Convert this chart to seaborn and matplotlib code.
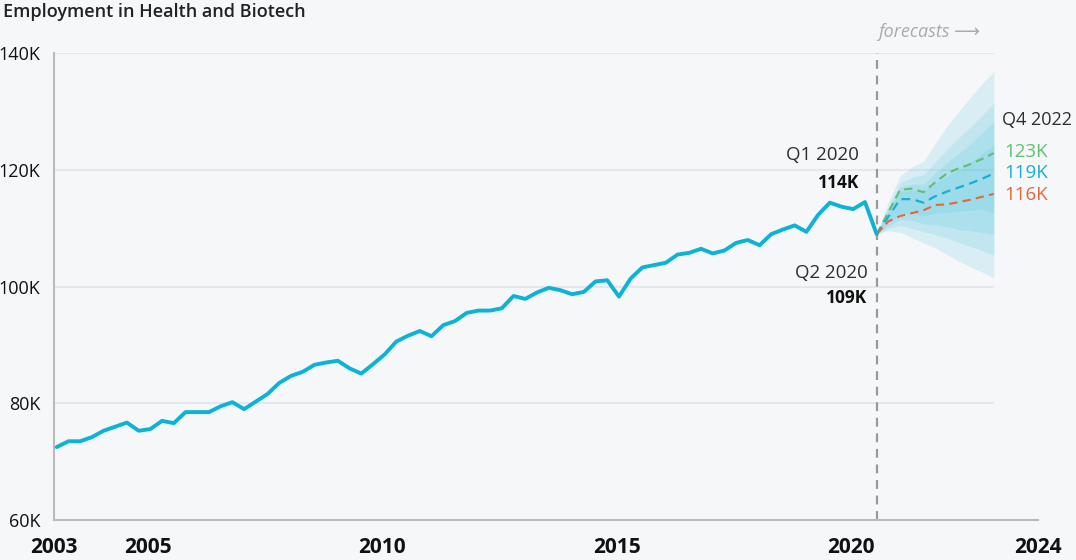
import numpy as np
import pandas as pd
import matplotlib
matplotlib.use("Agg")
import matplotlib.pyplot as plt
import seaborn as sns

# квартальные значения занятости, тыс. (Q1 2003 .. Q2 2020)
employment = [
    72.5, 73.5, 73.5, 74.2, 75.3, 76.0, 76.7, 75.3, 75.6, 77.0,
    76.6, 78.5, 78.5, 78.5, 79.5, 80.2, 79.0, 80.3, 81.6, 83.5,
    84.7, 85.4, 86.6, 87.0, 87.3, 86.0, 85.1, 86.7, 88.4, 90.6,
    91.6, 92.4, 91.5, 93.4, 94.1, 95.5, 95.9, 95.9, 96.3, 98.4,
    97.9, 99.0, 99.8, 99.4, 98.7, 99.1, 100.9, 101.1, 98.3, 101.4,
    103.3, 103.7, 104.1, 105.5, 105.8, 106.5, 105.7, 106.2, 107.5, 108.0,
    107.1, 109.0, 109.8, 110.5, 109.4, 112.3, 114.4, 113.7, 113.3, 114.5,
    109.0,
]

# прогноз Q2 2020 .. Q4 2022
fc_high = [109.0, 112.8, 116.6, 116.8, 116.2, 117.9, 119.4, 120.3, 121.0, 121.9, 122.9]
fc_mid = [109.0, 112.0, 115.0, 115.0, 114.4, 115.5, 116.3, 117.0, 117.7, 118.5, 119.4]
fc_low = [109.0, 111.2, 112.1, 112.6, 113.1, 114.0, 114.1, 114.5, 114.9, 115.4, 115.9]

# интервалы прогноза (от внешнего к внутреннему)
band_upper = [
    [109.0, 114.5, 119.0, 120.5, 121.5, 124.5, 127.5, 130.0, 132.5, 134.8, 136.9],
    [109.0, 113.8, 117.8, 118.8, 119.2, 121.4, 123.5, 125.5, 127.4, 129.4, 131.5],
    [109.0, 113.3, 117.0, 117.6, 117.6, 119.5, 121.3, 122.8, 124.5, 126.4, 128.3],
    [109.0, 112.8, 116.3, 116.6, 116.3, 117.7, 119.0, 120.0, 121.3, 122.8, 124.3],
]
band_lower = [
    [109.0, 109.6, 109.3, 108.4, 107.5, 106.6, 105.5, 104.4, 103.4, 102.5, 101.5],
    [109.0, 110.0, 110.5, 110.0, 109.4, 108.9, 108.3, 107.6, 106.9, 106.2, 105.4],
    [109.0, 110.4, 111.5, 111.4, 110.8, 110.6, 110.3, 109.8, 109.6, 109.3, 109.0],
    [109.0, 111.0, 112.6, 112.6, 112.2, 112.6, 112.7, 113.0, 113.1, 113.3, 112.6],
]

x_ticks = [2003, 2005, 2010, 2015, 2020, 2024]
y_ticks = [60, 80, 100, 120, 140]

# позиции кварталов на оси лет
start = 2003.05
hist_x = start + 0.25 * np.arange(len(employment))
fc_x = hist_x[-1] + 0.25 * np.arange(len(fc_mid))

hist = pd.DataFrame({'x': hist_x, 'value': employment})
fc = pd.DataFrame({'x': fc_x, 'high': fc_high, 'mid': fc_mid, 'low': fc_low})

sns.set_theme(style='white')
plt.rcParams['font.family'] = ['Open Sans', 'DejaVu Sans']

bg = '#f6f7f9'
cyan = '#0db3d6'
green = '#62bf72'
orange = '#e2683c'

fig = plt.figure(figsize=(10.76, 5.6), dpi=100, facecolor=bg)
ax = fig.add_axes([0.0505, 0.0714, 0.9145, 0.8334])
ax.set_facecolor(bg)

# сетка
for yv in y_ticks[1:]:
    ax.hlines(yv, 2003, fc_x[-1], color='#e6e7ea', lw=1.5, zorder=0)

# веер прогнозов
for up, lo in zip(band_upper, band_lower):
    ax.fill_between(fc_x, lo, up, color='#45c2de', alpha=0.16, lw=0, zorder=1)

sns.lineplot(data=hist, x='x', y='value', color=cyan, lw=2.8, ax=ax, zorder=4)
sns.lineplot(data=fc, x='x', y='high', color=green, lw=1.5, ax=ax, zorder=3,
             linestyle=(0, (4, 2.5)))
sns.lineplot(data=fc, x='x', y='mid', color='#1aaed4', lw=1.6, ax=ax, zorder=3,
             linestyle=(0, (4, 2.5)))
sns.lineplot(data=fc, x='x', y='low', color=orange, lw=1.5, ax=ax, zorder=3,
             linestyle=(0, (4, 2.5)))

ax.vlines(hist_x[-1], 60, 140, color='#9a9a9a', lw=1.6, linestyles=(0, (4, 3)), zorder=2)

ax.set_xlim(2003, 2024)
ax.set_ylim(60, 140)
ax.set_xlabel('')
ax.set_ylabel('')

ax.set_xticks(x_ticks)
ax.set_xticklabels([str(t) for t in x_ticks], fontsize=15, fontweight='bold', color='#111')
ax.set_xticks(range(2003, 2025), minor=True)
ax.set_yticks(y_ticks)
ax.set_yticklabels([f'{t}K' for t in y_ticks], fontsize=13, color='#111')

ax.tick_params(axis='x', which='major', direction='inout', length=9, width=1.5,
               color='#bbbbbb', pad=8)
ax.tick_params(axis='x', which='minor', direction='in', length=5, width=1.2,
               color='#bbbbbb')
ax.tick_params(axis='y', which='major', direction='in', length=6, width=1.5,
               color='#bbbbbb', pad=10)

for side in ['top', 'right']:
    ax.spines[side].set_visible(False)
for side in ['left', 'bottom']:
    ax.spines[side].set_color('#bbbbbb')
    ax.spines[side].set_linewidth(1.5)

# подписи
fig.text(0.003, 0.978, 'Employment in Health and Biotech', fontsize=13,
         fontweight='semibold', color='#222', va='center', ha='left')

ax.text(2020.18, 122.6, 'Q1 2020', fontsize=13.5, color='#2e2e2e',
        ha='right', va='center')
ax.text(2020.18, 117.8, '114K', fontsize=12.5, fontweight='bold', color='#111',
        ha='right', va='center')
ax.text(2020.35, 102.3, 'Q2 2020', fontsize=13.5, color='#2e2e2e',
        ha='right', va='center')
ax.text(2020.35, 98.0, '109K', fontsize=12.5, fontweight='bold', color='#111',
        ha='right', va='center')

ax.text(2023.22, 128.6, 'Q4 2022', fontsize=13, color='#2e2e2e',
        ha='left', va='center', clip_on=False)
ax.text(2023.27, 123.1, f'{fc_high[-1]:.0f}K', fontsize=13.5, color=green, ha='left', va='center')
ax.text(2023.27, 119.4, f'{fc_mid[-1]:.0f}K', fontsize=13.5, color='#1aaed4', ha='left', va='center')
ax.text(2023.27, 115.7, f'{fc_low[-1]:.0f}K', fontsize=13.5, color=orange, ha='left', va='center')

ax.text(2020.58, 143.6, 'forecasts \u27f6', fontsize=13, style='italic', color='#aaaaaa',
        ha='left', va='center', clip_on=False)

plt.savefig('out.png', dpi=100, facecolor=bg)
